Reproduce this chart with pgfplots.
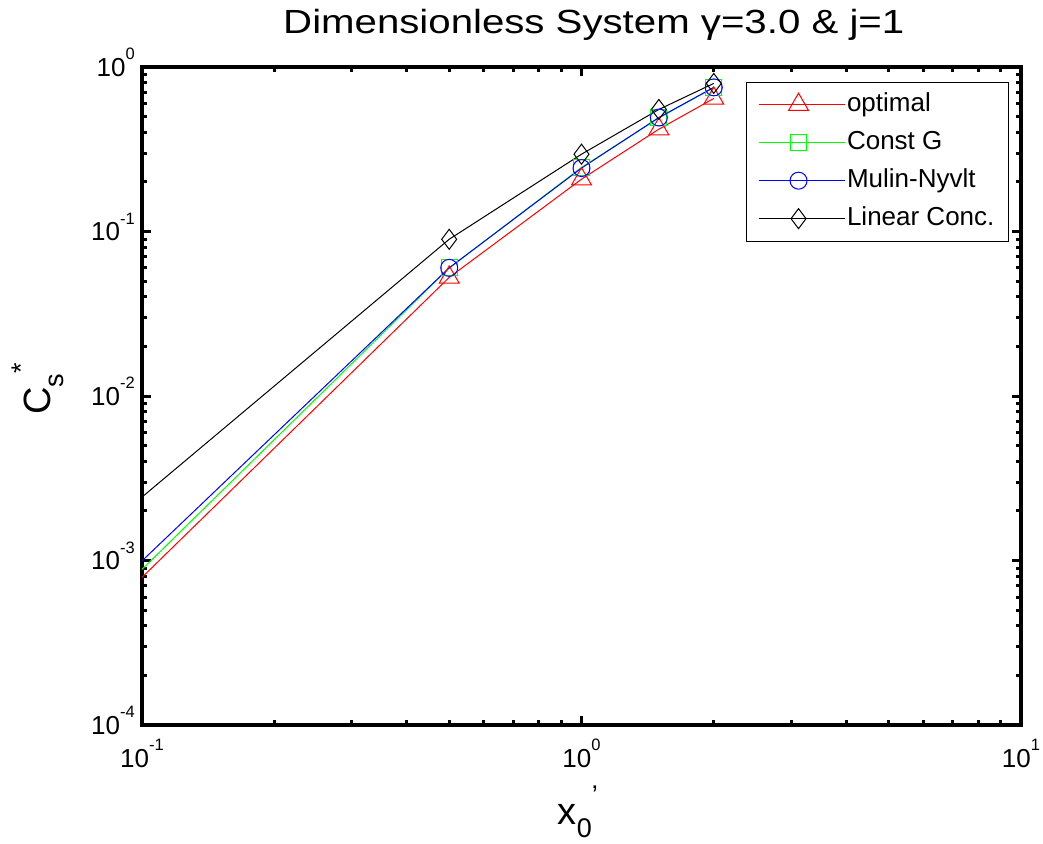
\documentclass[border=0pt]{standalone}
\usepackage{pgfplots}
\pgfplotsset{compat=1.18}
\usepackage{fontspec}
\setmainfont{Liberation Sans}
\newcommand\tl[1]{10\raisebox{16.5pt}{\fontsize{16.5}{16.5}\selectfont #1}}
\begin{document}
\begin{tikzpicture}
\begin{axis}[
  scale only axis, width=879pt, height=658pt,
  xmode=log, ymode=log,
  xmin=0.1, xmax=10, ymin=1e-4, ymax=1,
  axis line style={line width=3.5pt, line cap=rect},
  every tick/.style={line width=3pt, black},
  major tick length=9pt, minor tick length=5pt,
  tick align=inside,
  xtick={0.1,1,10}, xticklabels={\tl{-1},\tl{0},\tl{1}},
  ytick={1e-4,1e-3,1e-2,1e-1,1},
  yticklabels={\tl{-4},\tl{-3},\tl{-2},\tl{-1},\tl{0}},
  xticklabel style={font=\fontsize{26}{26}\selectfont, inner sep=0pt, anchor=north, yshift=-14pt},
  yticklabel style={font=\fontsize{26}{26}\selectfont, inner sep=0pt, anchor=base east, xshift=-7pt, yshift=-9.3pt},
  title={\scalebox{1.2}[1]{Dimensionless System γ=3.0 \& j=1}},
  title style={font=\fontsize{33.5}{33.5}\selectfont, at={(axis description cs:0.514,1.042)}, anchor=base, inner sep=0pt},
  xlabel={x\raisebox{-13pt}{\fontsize{27}{27}\selectfont 0}\raisebox{20pt}{\fontsize{27}{27}\selectfont '}},
  xlabel style={font=\fontsize{38}{38}\selectfont, at={(axis description cs:0.496,-0.132)}, anchor=center, inner sep=0pt},
  ylabel={C\raisebox{-13pt}{\fontsize{27}{27}\selectfont s}\raisebox{20pt}{\fontsize{27}{27}\selectfont *}},
  ylabel style={font=\fontsize{38}{38}\selectfont, at={(axis description cs:-0.119,0.511)}, anchor=center, rotate=0, inner sep=0pt},
  legend style={at={(axis description cs:0.9863,0.9777)}, anchor=north east, draw=black, line width=1pt,
    font=\fontsize{26}{26}\selectfont, inner xsep=12pt, inner ysep=8pt, row sep=9pt,
    nodes={inner sep=2pt, text height=19pt, text depth=6pt}},
  legend cell align=left,
  legend image code/.code={\draw[mark repeat=2,mark phase=2,#1] plot coordinates {(0pt,0pt) (40pt,0pt) (80pt,0pt)};
    \path (0pt,0pt) -- (86pt,0pt);},
]
% optimal
\addplot[forget plot, red, line width=1pt] coordinates {(0.1,0.00079) (0.5,0.0526)};
\addplot[red, line width=1pt, mark=triangle, mark size=11.5pt, mark options={solid, line width=1pt}]
  coordinates {(0.5,0.0526) (1,0.208) (1.5,0.419) (2,0.644)};
\addlegendentry{optimal}
% Const G
\addplot[forget plot, green, line width=1pt] coordinates {(0.1,0.000883) (0.5,0.0600)};
\addplot[green, line width=1pt, mark=square, mark size=8pt, mark options={solid, line width=1pt}]
  coordinates {(0.5,0.0600) (1,0.245) (1.5,0.490) (2,0.750)};
\addlegendentry{Const G}
% Mulin-Nyvlt
\addplot[forget plot, blue, line width=1pt] coordinates {(0.1,0.000995) (0.5,0.0601)};
\addplot[blue, line width=1pt, mark=o, mark size=8.5pt, mark options={solid, line width=1pt}]
  coordinates {(0.5,0.0601) (1,0.243) (1.5,0.493) (2,0.752)};
\addlegendentry{Mulin-Nyvlt}
% Linear Conc.
\addplot[forget plot, black, line width=1pt] coordinates {(0.1,0.00243) (0.5,0.0897)};
\addplot[black, line width=1pt, mark=diamond, mark size=10pt, mark options={solid, line width=1pt}]
  coordinates {(0.5,0.0897) (1,0.295) (1.5,0.552) (2,0.795)};
\addlegendentry{Linear Conc.}
\end{axis}
\pgfresetboundingbox
\path ([xshift=-142pt,yshift=-118pt]current axis.south west) rectangle ([xshift=22pt,yshift=67pt]current axis.north east);
\end{tikzpicture}
\end{document}
